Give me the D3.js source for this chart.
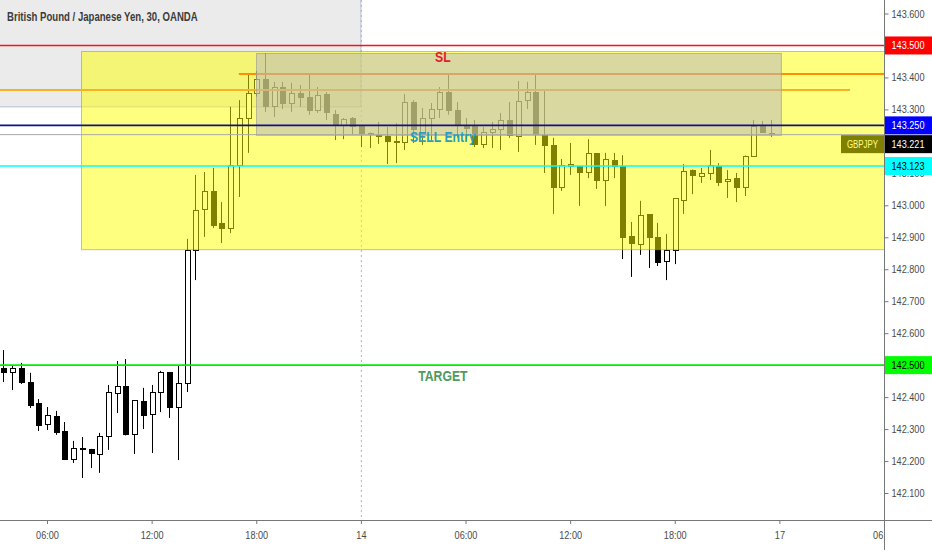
<!DOCTYPE html>
<html>
<head>
<meta charset="utf-8">
<script src="https://cdn.jsdelivr.net/npm/d3@7"></script>
<style>
  body { margin: 0; background: #fff; }
  svg { display: block; }
</style>
</head>
<body>
<script>
// GBPJPY 30m candles, first candle sits 5 slots before the 06:00 tick
const firstSlot = -5;

const opens = [
  142.488, 142.476, 142.491, 142.447, 142.379, 142.313, 142.338, 142.291, 142.206, 142.238,
  142.235, 142.222, 142.278, 142.410, 142.432, 142.282, 142.385, 142.347, 142.413, 142.476,
  142.366, 142.444, 142.860, 142.988, 143.042, 142.942, 142.926, 143.126, 143.273, 143.351,
  143.395, 143.308, 143.367, 143.317, 143.351, 143.336, 143.298, 143.348, 143.283, 143.251,
  143.270, 143.245, 143.226, 143.217, 143.214, 143.201, 143.198, 143.323, 143.220, 143.273,
  143.301, 143.354, 143.295, 143.251, 143.245, 143.189, 143.229, 143.236, 143.264, 143.214,
  143.329, 143.354, 143.217, 143.186, 143.057, 143.120, 143.120, 143.104, 143.161, 143.079,
  143.139, 143.120, 142.901, 142.876, 142.970, 142.898, 142.823, 142.860, 143.014, 143.110,
  143.089, 143.098, 143.120, 143.073, 143.085, 143.057, 143.154, 143.248, 143.226
];
const highs = [
  142.547, 142.500, 142.507, 142.476, 142.394, 142.369, 142.357, 142.322, 142.263, 142.275,
  142.238, 142.288, 142.438, 142.513, 142.519, 142.388, 142.429, 142.438, 142.482, 142.478,
  142.500, 142.895, 143.095, 143.104, 143.117, 143.010, 143.308, 143.329, 143.408, 143.420,
  143.476, 143.386, 143.386, 143.383, 143.376, 143.408, 143.370, 143.354, 143.298, 143.273,
  143.276, 143.251, 143.228, 143.261, 143.245, 143.257, 143.348, 143.329, 143.304, 143.320,
  143.370, 143.408, 143.323, 143.273, 143.267, 143.245, 143.261, 143.289, 143.323, 143.389,
  143.386, 143.408, 143.361, 143.211, 143.145, 143.195, 143.123, 143.207, 143.163, 143.164,
  143.164, 143.157, 142.948, 143.014, 142.972, 142.945, 142.910, 143.022, 143.129, 143.112,
  143.117, 143.173, 143.132, 143.110, 143.101, 143.156, 143.267, 143.264, 143.267
];
const lows = [
  142.447, 142.422, 142.441, 142.366, 142.294, 142.297, 142.282, 142.203, 142.194, 142.147,
  142.178, 142.163, 142.235, 142.350, 142.280, 142.222, 142.300, 142.225, 142.353, 142.335,
  142.203, 142.416, 142.766, 142.901, 142.929, 142.882, 142.913, 143.026, 143.164, 143.340,
  143.292, 143.276, 143.301, 143.292, 143.308, 143.283, 143.289, 143.267, 143.204, 143.207,
  143.220, 143.182, 143.179, 143.192, 143.129, 143.132, 143.173, 143.195, 143.189, 143.204,
  143.273, 143.283, 143.211, 143.204, 143.182, 143.179, 143.179, 143.173, 143.211, 143.167,
  143.301, 143.189, 143.101, 142.973, 143.045, 143.095, 142.998, 143.085, 143.051, 142.998,
  143.085, 142.832, 142.776, 142.845, 142.804, 142.810, 142.766, 142.816, 142.973, 143.035,
  143.070, 143.079, 143.060, 143.023, 143.010, 143.029, 143.152, 143.226, 143.214
];
const closes = [
  142.476, 142.491, 142.447, 142.375, 142.310, 142.341, 142.288, 142.206, 142.238, 142.236,
  142.225, 142.278, 142.413, 142.432, 142.282, 142.388, 142.344, 142.413, 142.476, 142.366,
  142.444, 142.860, 142.985, 143.042, 142.938, 142.926, 143.126, 143.273, 143.351, 143.395,
  143.308, 143.367, 143.317, 143.351, 143.336, 143.298, 143.342, 143.289, 143.251, 143.267,
  143.245, 143.226, 143.220, 143.216, 143.201, 143.200, 143.323, 143.236, 143.270, 143.301,
  143.354, 143.295, 143.251, 143.239, 143.189, 143.229, 143.236, 143.264, 143.217, 143.326,
  143.354, 143.220, 143.186, 143.057, 143.126, 143.129, 143.104, 143.161, 143.079, 143.142,
  143.120, 142.898, 142.879, 142.967, 142.898, 142.820, 142.860, 143.020, 143.107, 143.092,
  143.098, 143.126, 143.070, 143.082, 143.057, 143.154, 143.245, 143.229, 143.221
];

const xTickSlots = [0, 12, 24, 36, 48, 60, 72, 84, 96];
const xTickLabels = ['06:00', '12:00', '18:00', '14', '06:00', '12:00', '18:00', '17', '06:00'];
const yTicks = [142.1, 142.2, 142.3, 142.4, 142.5, 142.6, 142.7, 142.8, 142.9,
                143.0, 143.1, 143.2, 143.3, 143.4, 143.5, 143.6];

const symbol = 'GBPJPY';
const title = 'British Pound / Japanese Yen, 30, OANDA';
const lastPrice = 143.221;
const slLevel = 143.500;
const entryLevel = 143.250;
const entry2Level = 143.123;
const targetLevel = 142.500;

// drawings: [fromSlot, toSlot, topPrice, bottomPrice]
const yellowZone = [3.9, 96, 143.483, 142.863];
const grayZone = [24, 84.2, 143.476, 143.220];
const titleZone = [-6, 36, 143.700, 143.308];
// trend lines: [fromSlot, toSlot, price]
const orangeRay = [22, 96, 143.411];
const goldLine = [-6, 92.1, 143.361];
const daySplitSlot = 36;

const W = 932, H = 550;
const plotRight = 884, plotBottom = 520;
const narrow = 0.83;   // squeeze Liberation Sans to an Arial Narrow width

const candles = opens.map((o, i) => ({
  slot: firstSlot + i, open: o, high: highs[i], low: lows[i], close: closes[i]
}));

const x = d3.scaleLinear().domain([0, 96]).range([47, 884]);
const y = d3.scaleLinear().domain([142.1, 143.6]).range([493, 13.5]);

const font = '"Liberation Sans", Arial, sans-serif';

const svg = d3.create('svg')
  .attr('width', W)
  .attr('height', H);

const defs = svg.append('defs');
defs.append('clipPath')
  .attr('id', 'plot')
  .append('rect')
  .attr('width', plotRight)
  .attr('height', plotBottom);
defs.append('clipPath')
  .attr('id', 'timeaxis')
  .append('rect')
  .attr('x', 0).attr('y', 0)
  .attr('width', plotRight)
  .attr('height', H - plotBottom);

const plot = svg.append('g').attr('clip-path', 'url(#plot)');

// title box at top left
plot.append('rect')
  .attr('x', x(titleZone[0]))
  .attr('y', y(titleZone[2]))
  .attr('width', x(titleZone[1]) - x(titleZone[0]))
  .attr('height', y(titleZone[3]) - y(titleZone[2]))
  .attr('fill', 'rgba(128,128,128,0.16)')
  .attr('stroke', '#b4bfd6');

plot.append('line')
  .attr('x1', x(daySplitSlot) + 0.5).attr('x2', x(daySplitSlot) + 0.5)
  .attr('y1', 0).attr('y2', plotBottom)
  .attr('stroke', '#aab4cc')
  .attr('stroke-dasharray', '2,3');

// candles
const bar = plot.append('g')
  .selectAll('g')
  .data(candles)
  .join('g');

bar.append('line')
  .attr('x1', d => Math.round(x(d.slot)) + 0.5)
  .attr('x2', d => Math.round(x(d.slot)) + 0.5)
  .attr('y1', d => y(d.high))
  .attr('y2', d => y(d.low))
  .attr('stroke', '#000');

bar.append('rect')
  .attr('x', d => Math.round(x(d.slot)) - 2)
  .attr('y', d => y(Math.max(d.open, d.close)))
  .attr('width', 5)
  .attr('height', d => Math.max(1, Math.abs(y(d.open) - y(d.close))))
  .attr('fill', d => d.close >= d.open ? '#fff' : '#000')
  .attr('stroke', '#000')
  .attr('shape-rendering', 'crispEdges');

// symbol tag next to the price scale (gets tinted by the zone)
plot.append('rect')
  .attr('x', 841).attr('y', y(lastPrice) + 0.5)
  .attr('width', 43).attr('height', 18)
  .attr('fill', '#000');
plot.append('text')
  .attr('transform', `translate(862.5,${y(lastPrice) + 13.5}) scale(0.72,1)`)
  .attr('text-anchor', 'middle')
  .attr('font-family', font)
  .attr('font-size', 11)
  .attr('fill', '#fff')
  .text(symbol);

// yellow zone
plot.append('rect')
  .attr('x', Math.round(x(yellowZone[0])) + 0.5)
  .attr('y', Math.round(y(yellowZone[2])) + 0.5)
  .attr('width', x(yellowZone[1]) - x(yellowZone[0]))
  .attr('height', y(yellowZone[3]) - y(yellowZone[2]))
  .attr('fill', 'rgba(255,255,0,0.5)')
  .attr('stroke', 'rgba(140,140,140,0.55)');

plot.append('line')
  .attr('x1', x(goldLine[0])).attr('x2', x(goldLine[1]))
  .attr('y1', y(goldLine[2])).attr('y2', y(goldLine[2]))
  .attr('stroke', '#f5b324')
  .attr('stroke-width', 2);

plot.append('line')
  .attr('x1', x(orangeRay[0])).attr('x2', x(orangeRay[1]))
  .attr('y1', y(orangeRay[2])).attr('y2', y(orangeRay[2]))
  .attr('stroke', '#ff8f00')
  .attr('stroke-width', 2);

// gray zone
plot.append('rect')
  .attr('x', Math.round(x(grayZone[0])) + 0.5)
  .attr('y', Math.round(y(grayZone[2])) + 0.5)
  .attr('width', x(grayZone[1]) - x(grayZone[0]))
  .attr('height', y(grayZone[3]) - y(grayZone[2]))
  .attr('fill', 'rgba(185,185,185,0.56)')
  .attr('stroke', 'rgba(150,150,150,0.6)');

// last price line
plot.append('line')
  .attr('x1', 0).attr('x2', plotRight)
  .attr('y1', y(lastPrice)).attr('y2', y(lastPrice))
  .attr('stroke', '#a8a8a8');

const levels = [
  { price: entryLevel, line: '#10108c', box: '#0000ff', text: '#fff' },
  { price: slLevel, line: '#ff1010', box: '#ff0000', text: '#fff' },
  { price: entry2Level, line: '#00ffff', box: '#00ffff', text: '#000' },
  { price: targetLevel, line: '#00ee00', box: '#00ff00', text: '#000' }
];

plot.selectAll('.level')
  .data(levels)
  .join('line')
  .attr('class', 'level')
  .attr('x1', 0).attr('x2', plotRight)
  .attr('y1', d => y(d.price)).attr('y2', d => y(d.price))
  .attr('stroke', d => d.line)
  .attr('stroke-width', 1.6);

const notes = [
  { text: 'SL', price: 143.448, color: '#e3202a' },
  { text: 'SELL Entry', price: 143.198, color: '#2a9dc2' },
  { text: 'TARGET', price: 142.451, color: '#4f9b5d' }
];

plot.selectAll('.note')
  .data(notes)
  .join('text')
  .attr('class', 'note')
  .attr('transform', d => `translate(${x(45.4)},${y(d.price)}) scale(0.875,1)`)
  .attr('text-anchor', 'middle')
  .attr('font-family', font)
  .attr('font-weight', 'bold')
  .attr('font-size', 14)
  .attr('fill', d => d.color)
  .text(d => d.text);

plot.append('text')
  .attr('transform', 'translate(7,21) scale(0.8,1)')
  .attr('font-family', font)
  .attr('font-weight', 'bold')
  .attr('font-size', 12)
  .attr('fill', '#3b3b3b')
  .text(title);

// time axis
const xAxis = d3.axisBottom(x)
  .tickValues(xTickSlots)
  .tickFormat((d, i) => xTickLabels[i])
  .tickSize(4)
  .tickSizeOuter(0);

const gx = svg.append('g')
  .attr('transform', `translate(0,${plotBottom})`)
  .attr('clip-path', 'url(#timeaxis)')
  .call(xAxis);
gx.select('.domain').remove();
gx.selectAll('line').attr('stroke', '#777');
gx.selectAll('text')
  .attr('transform', `scale(${narrow},1)`)
  .attr('font-family', font)
  .attr('font-size', 11)
  .attr('fill', '#4a4a4a')
  .attr('dy', '1.05em');

svg.append('line')
  .attr('x1', 0).attr('x2', W)
  .attr('y1', plotBottom + 0.5).attr('y2', plotBottom + 0.5)
  .attr('stroke', '#777');

// price axis
const tags = levels.concat([{ price: lastPrice, box: '#000', text: '#fff', shift: 9.5 }]);
const tagY = d => y(d.price) + (d.shift || 0);

const yAxis = d3.axisRight(y)
  .tickValues(yTicks)
  .tickFormat(d3.format('.3f'))
  .tickSize(4)
  .tickSizeOuter(0);

const gy = svg.append('g')
  .attr('transform', `translate(${plotRight + 0.5},0)`)
  .call(yAxis);
gy.select('.domain').remove();
gy.selectAll('line').attr('stroke', '#777');
gy.selectAll('text')
  .attr('x', 7 / narrow)
  .attr('transform', `scale(${narrow},1)`)
  .attr('font-family', font)
  .attr('font-size', 11)
  .attr('fill', '#4a4a4a');
// labels fully hidden behind a price tag are dropped
gy.selectAll('.tick')
  .filter(t => tags.some(d => Math.abs(tagY(d) - y(t)) < 4))
  .select('text')
  .remove();

svg.append('line')
  .attr('x1', plotRight + 0.5).attr('x2', plotRight + 0.5)
  .attr('y1', 0).attr('y2', H)
  .attr('stroke', '#777');

// price labels on the scale
const tag = svg.append('g')
  .selectAll('g')
  .data(tags)
  .join('g')
  .attr('transform', d => `translate(${plotRight + 1},${tagY(d)})`);

tag.append('rect')
  .attr('y', -9)
  .attr('width', W - plotRight)
  .attr('height', 18)
  .attr('fill', d => d.box);

tag.append('text')
  .attr('transform', `translate(6.5,0) scale(${narrow},1)`)
  .attr('dy', '0.35em')
  .attr('font-family', font)
  .attr('font-size', 11)
  .attr('fill', d => d.text)
  .text(d => d3.format('.3f')(d.price));

document.querySelector('body').appendChild(svg.node());
</script>
</body>
</html>
